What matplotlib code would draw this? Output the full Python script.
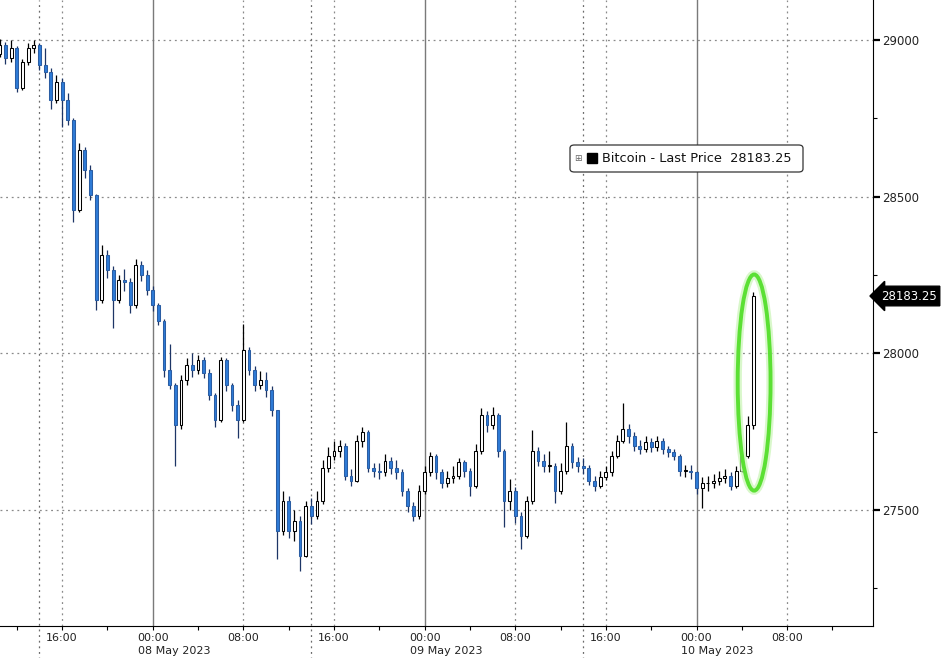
import matplotlib
matplotlib.use("Agg")
import matplotlib.pyplot as plt
import matplotlib.dates as mdates
from matplotlib.patches import Ellipse, FancyBboxPatch, Rectangle
from matplotlib.ticker import MultipleLocator, FormatStrFormatter
from matplotlib.transforms import blended_transform_factory
import numpy as np
import pandas as pd

# Bitcoin, 30 min bars from 07 May 2023 10:30
start = "2023-05-07 10:30"
open0 = 28955
closes = [
    28984, 28942, 28974, 28847, 28930, 28974, 28984, 28920, 28898, 28808,
    28866, 28808, 28744, 28457, 28649, 28585, 28505, 28169, 28313, 28265,
    28169, 28233, 28227, 28153, 28281, 28249, 28201, 28153, 28105, 27946,
    27898, 27770, 27914, 27962, 27946, 27978, 27939, 27866, 27786, 27978,
    27898, 27834, 27786, 28010, 27946, 27898, 27914, 27882, 27818, 27434,
    27530, 27434, 27466, 27355, 27514, 27482, 27530, 27633, 27674, 27690,
    27706, 27610, 27594, 27722, 27748, 27633, 27626, 27620, 27658, 27633,
    27620, 27562, 27514, 27482, 27562, 27620, 27674, 27620, 27588, 27601,
    27610, 27652, 27626, 27578, 27690, 27802, 27770, 27802, 27690, 27530,
    27562, 27482, 27418, 27530, 27690, 27658, 27642, 27642, 27562, 27626,
    27706, 27652, 27642, 27633, 27594, 27578, 27607, 27620, 27674, 27722,
    27760, 27738, 27706, 27696, 27716, 27700, 27722, 27696, 27684, 27674,
    27626, 27626, 27620, 27569, 27585, 27588, 27594, 27601, 27610, 27578,
    27626, 27674, 27770, 28183.25,
]
highs = [
    29005, 28995, 29000, 28980, 28940, 28990, 29000, 28990, 28974, 28910,
    28890, 28880, 28830, 28750, 28671, 28660, 28600, 28510, 28345, 28330,
    28280, 28250, 28270, 28240, 28300, 28295, 28265, 28215, 28160, 28110,
    28030, 27905, 27930, 27985, 28000, 27995, 27990, 27950, 27875, 27990,
    27985, 27905, 27850, 28095, 28020, 27960, 27945, 27940, 27895, 27820,
    27560, 27545, 27500, 27480, 27530, 27540, 27560, 27660, 27700, 27720,
    27725, 27715, 27630, 27740, 27765, 27755, 27650, 27650, 27680, 27670,
    27660, 27630, 27570, 27525, 27580, 27640, 27685, 27680, 27630, 27625,
    27640, 27665, 27660, 27635, 27710, 27827, 27815, 27830, 27810, 27695,
    27600, 27575, 27495, 27545, 27755, 27700, 27680, 27690, 27650, 27650,
    27780, 27715, 27670, 27665, 27645, 27610, 27625, 27640, 27690, 27740,
    27843, 27775, 27750, 27725, 27735, 27730, 27735, 27730, 27705, 27695,
    27680, 27645, 27645, 27625, 27605, 27610, 27615, 27625, 27630, 27620,
    27640, 27690, 27800, 28196,
]
lows = [
    28945, 28925, 28930, 28834, 28840, 28920, 28960, 28905, 28880, 28780,
    28800, 28722, 28730, 28418, 28450, 28560, 28490, 28137, 28160, 28240,
    28080, 28160, 28200, 28130, 28145, 28230, 28185, 28135, 28090, 27925,
    27885, 27640, 27760, 27900, 27925, 27935, 27920, 27850, 27765, 27780,
    27880, 27815, 27730, 27780, 27930, 27880, 27885, 27860, 27800, 27345,
    27420, 27410, 27400, 27305, 27350, 27455, 27470, 27520, 27620, 27660,
    27670, 27595, 27578, 27590, 27700, 27620, 27605, 27600, 27610, 27615,
    27600, 27545, 27495, 27466, 27470, 27550, 27610, 27600, 27570, 27575,
    27585, 27600, 27605, 27546, 27570, 27680, 27750, 27760, 27670, 27445,
    27500, 27460, 27377, 27410, 27520, 27640, 27620, 27620, 27524, 27550,
    27615, 27635, 27620, 27615, 27580, 27560, 27570, 27595, 27610, 27665,
    27715, 27715, 27690, 27680, 27685, 27685, 27690, 27680, 27670, 27660,
    27610, 27605, 27600, 27550, 27506, 27560, 27570, 27580, 27585, 27565,
    27570, 27620, 27665, 27760,
]
last_price = 28183.25
date_labels = ["08 May 2023", "09 May 2023", "10 May 2023"]

W, H = 947, 658
AX_W, AX_H = 872.7, 626


def px(x, y):
    # image pixel -> axes fraction
    return x / AX_W, 1 - y / AX_H


def main():
    times = pd.date_range(start, periods=len(closes), freq="30min")
    x = mdates.date2num(times)
    c = np.array(closes, dtype=float)
    o = np.concatenate([[open0], c[:-1]])
    hi = np.array(highs, dtype=float)
    lo = np.array(lows, dtype=float)
    up = c >= o

    fig = plt.figure(figsize=(W / 100, H / 100), dpi=100)
    ax = fig.add_axes([0, 1 - AX_H / H, AX_W / W, AX_H / H])

    t0 = pd.Timestamp("2023-05-07 10:31")
    t1 = pd.Timestamp("2023-05-10 15:33")
    ax.set_xlim(t0, t1)
    ax.set_ylim(27130, 29128)

    dot = (0, (1.5, 3))
    for lvl in [27500, 28000, 28500, 29000]:
        ax.axhline(lvl, color="#8a8a8a", lw=0.9, ls=dot, zorder=1)
    for d in ["2023-05-08", "2023-05-09", "2023-05-10"]:
        ax.axvline(pd.Timestamp(d), color="#7a7a7a", lw=1.0, zorder=1)
    for t in ["2023-05-07 16:00", "2023-05-08 08:00", "2023-05-08 16:00",
              "2023-05-09 08:00", "2023-05-09 16:00", "2023-05-10 08:00"]:
        ax.axvline(pd.Timestamp(t), color="#8a8a8a", lw=0.9, ls=dot, zorder=1)
    sep_tr = blended_transform_factory(ax.transData, ax.transAxes)
    for t in ["2023-05-07 14:00", "2023-05-08 14:00", "2023-05-09 14:00"]:
        ax.plot([pd.Timestamp(t)] * 2, [-0.06, 1], transform=sep_tr, color="#6a6a6a",
                lw=0.9, ls=dot, clip_on=False, zorder=1)

    # candles
    width = (30 / 1440) * 0.5
    ax.vlines(x[up], lo[up], hi[up], color="black", lw=0.9, zorder=2)
    ax.vlines(x[~up], lo[~up], hi[~up], color="#1d3566", lw=0.9, zorder=2)
    bottoms = np.minimum(o, c)
    heights = np.maximum(np.abs(c - o), 1.5)
    ax.bar(x[up], heights[up], width, bottom=bottoms[up], facecolor="white",
           edgecolor="black", lw=0.75, zorder=3)
    ax.bar(x[~up], heights[~up], width, bottom=bottoms[~up], facecolor="#2f7bd6",
           edgecolor="#2a5da3", lw=0.75, zorder=3)

    # axes styling
    for s in ["left", "top"]:
        ax.spines[s].set_visible(False)
    ax.spines["right"].set_color("black")
    ax.spines["bottom"].set_color("black")
    ax.yaxis.tick_right()
    ax.yaxis.set_major_locator(MultipleLocator(500))
    ax.yaxis.set_minor_locator(MultipleLocator(250))
    ax.yaxis.set_major_formatter(FormatStrFormatter("%d"))
    ax.tick_params(axis="y", which="major", length=5, width=1.6, pad=2,
                   labelsize=8.5, labelcolor="#222222")
    ax.tick_params(axis="y", which="minor", length=3, width=0.8)

    ax.xaxis.set_major_locator(mdates.HourLocator(byhour=[0, 8, 16]))
    ax.xaxis.set_minor_locator(mdates.HourLocator(byhour=[4, 12, 20]))
    ax.xaxis.set_major_formatter(mdates.DateFormatter("%H:%M"))
    ax.tick_params(axis="x", which="major", length=3, width=0.8, pad=2,
                   labelsize=8, labelcolor="#222222")
    ax.tick_params(axis="x", which="minor", length=3, width=0.8)

    for d, lab in zip(["2023-05-08", "2023-05-09", "2023-05-10"], date_labels):
        ax.text(pd.Timestamp(d) - pd.Timedelta(minutes=80), -0.040, lab,
                transform=sep_tr, ha="left", va="center", fontsize=8, color="#222222")

    # last price tag on the right axis
    tag_tr = blended_transform_factory(ax.transAxes, ax.transData)
    ax.annotate("{:.2f}".format(last_price), xy=(1, last_price), xycoords=tag_tr,
                xytext=(8, 0), textcoords="offset pixels", ha="left", va="center",
                fontsize=8.5, color="white", annotation_clip=False,
                bbox=dict(boxstyle="larrow,pad=0.28", fc="black", ec="black"))

    # legend box
    lx0, ly1 = px(570, 145)
    lx1, ly0 = px(803, 172)
    ax.add_patch(FancyBboxPatch((lx0, ly0), lx1 - lx0, ly1 - ly0, transform=ax.transAxes,
                                boxstyle="round,pad=0,rounding_size=0.005",
                                fc="white", ec="#333333", lw=0.9, zorder=5))
    ix, iy = px(578, 158)
    ax.text(ix, iy, "\u229e", transform=ax.transAxes, ha="center", va="center",
            fontsize=6.5, color="#666666", zorder=6)
    sx0, sy1 = px(587, 153)
    sx1, sy0 = px(597, 163)
    ax.add_patch(Rectangle((sx0, sy0), sx1 - sx0, sy1 - sy0, transform=ax.transAxes,
                           fc="black", ec="black", zorder=6))
    tx, ty = px(602, 158)
    ax.text(tx, ty, "Bitcoin - Last Price  {:.2f}".format(last_price), transform=ax.transAxes,
            ha="left", va="center", fontsize=9.3, color="#111111", zorder=6)

    # highlight of the final spike
    centre = (mdates.date2num(pd.Timestamp("2023-05-10 05:05")), 27907)
    ew, eh = 2.9 / 24, 690
    ax.add_patch(Ellipse(centre, ew, eh, fill=False, ec="#c9f5b5", lw=6, alpha=0.7, zorder=7))
    ax.add_patch(Ellipse(centre, ew, eh, fill=False, ec="#5be034", lw=2.8, zorder=8))

    fig.savefig("out.png", dpi=100)


if __name__ == "__main__":
    main()
